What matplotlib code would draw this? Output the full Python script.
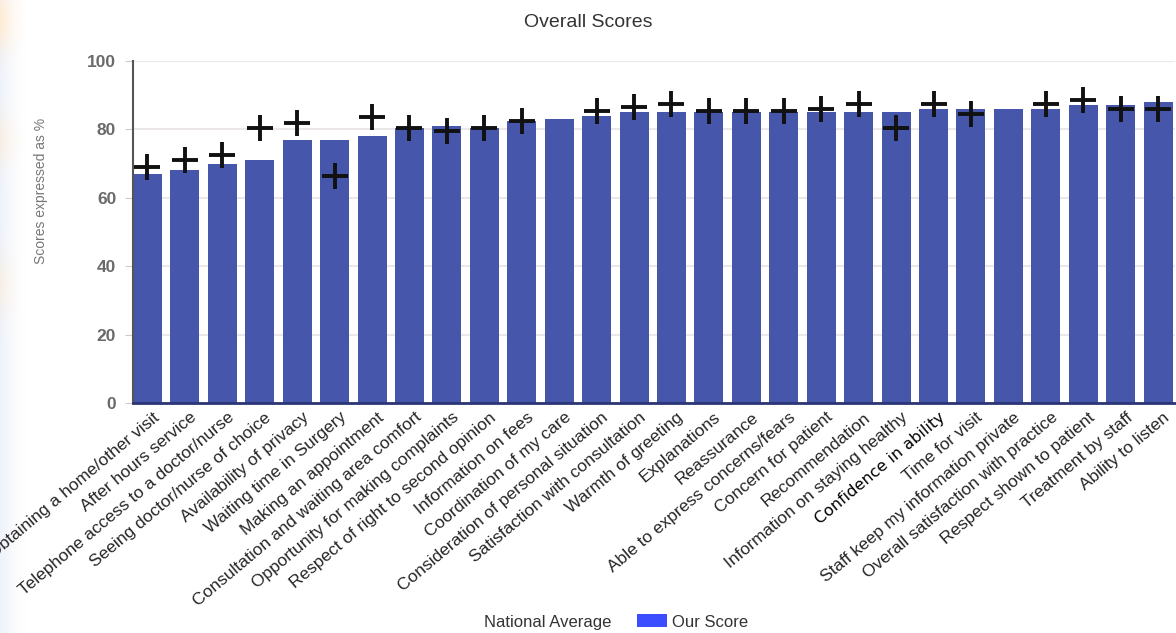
import numpy as np
import matplotlib
matplotlib.use("Agg")
from matplotlib import pyplot as plt
from matplotlib.patches import Patch
from matplotlib.lines import Line2D
import matplotlib.transforms as mtransforms

categories = [
    "Obtaining a home/other visit", "After hours service",
    "Telephone access to a doctor/nurse", "Seeing doctor/nurse of choice",
    "Availability of privacy", "Waiting time in Surgery", "Making an appointment",
    "Consultation and waiting area comfort", "Opportunity for making complaints",
    "Respect of right to second opinion", "Information on fees",
    "Coordination of my care", "Consideration of personal situation",
    "Satisfaction with consultation", "Warmth of greeting", "Explanations",
    "Reassurance", "Able to express concerns/fears", "Concern for patient",
    "Recommendation", "Information on staying healthy", "Confidence in ability",
    "Time for visit", "Staff keep my information private",
    "Overall satisfaction with practice", "Respect shown to patient",
    "Treatment by staff", "Ability to listen",
]
our_score = [67, 68, 70, 71, 77, 77, 78, 80.5, 81, 80.5, 82.5, 83, 84, 85,
             85, 85, 85, 85, 85, 85, 85, 86, 86, 86, 86, 87, 87, 88]
# nan = no national figure for that question
national_avg = [69, 71, 72.5, 80.5, 82, 66.5, 83.5, 80.5, 79.5, 80.5, 82.5, np.nan,
                85.5, 86.5, 87.5, 85.5, 85.5, 85.5, 86, 87.5, 80.5, 87.5, 84.5,
                np.nan, 87.5, 88.5, 86, 86]
yticks = [0, 20, 40, 60, 80, 100]

bar_color = "#4656aa"
legend_blue = "#3b4dff"

plt.rcParams["font.family"] = ["Liberation Sans", "DejaVu Sans"]

fig = plt.figure(figsize=(11.76, 6.33), dpi=100)
ax = fig.add_axes([0.113, 0.3633, 0.886, 0.5403])

# faint page background bleeding in on the left edge
h, w = 633, 26
fade = 0.55 * np.clip(1 - np.arange(w) / w, 0, 1) ** 1.5
rows = np.linspace(0, 1, h)
warm = np.exp(-((rows - 0.03) / 0.05) ** 2) + 0.6 * np.exp(-((rows - 0.22) / 0.04) ** 2) \
    + 0.5 * np.exp(-((rows - 0.45) / 0.05) ** 2)
warm = np.clip(warm, 0, 1)
blue = np.array([0.88, 0.91, 0.97])
orange = np.array([0.99, 0.86, 0.70])
col = blue[None, :] * (1 - warm[:, None]) + orange[None, :] * warm[:, None]
img = np.ones((h, w, 3))
img = img * (1 - fade[None, :, None]) + col[:, None, :] * fade[None, :, None]
fig.figimage(img, xo=0, yo=0, origin="upper", zorder=-10)

x = np.arange(len(categories))
ax.set_axisbelow(True)
ax.patch.set_alpha(0)
ax.yaxis.grid(True, color="#ece8e8", linewidth=1.5)
ax.bar(x, our_score, width=0.775, color=bar_color, zorder=2)
ax.plot(x, national_avg, linestyle="none", marker="+", markersize=19,
        markeredgewidth=2.8, color="#111111", zorder=3)

ax.set_xlim(-0.388, 27.446)
ax.set_ylim(0, 100)
ax.set_yticks(yticks)
ax.tick_params(axis="y", length=6, color="#cccccc", labelsize=12.5, labelcolor="#6a6a6a", pad=6)
for t in ax.get_yticklabels():
    t.set_fontweight("bold")
ax.set_xticks(x)
ax.set_xticklabels(categories, rotation=40, ha="right", va="center",
                   rotation_mode="anchor", fontsize=12.5, color="#262626")
ax.tick_params(axis="x", length=0, pad=0)
offset = mtransforms.ScaledTranslation(7 / 72, -9 / 72, fig.dpi_scale_trans)
for t in ax.get_xticklabels():
    t.set_transform(t.get_transform() + offset)
    if t.get_text() == "Confidence in ability":
        t.set_family("DejaVu Sans")
        t.set_fontsize(11.5)
        t.set_color("black")

for s in ["top", "right"]:
    ax.spines[s].set_visible(False)
ax.spines["left"].set_color("#555555")
ax.spines["left"].set_linewidth(1.5)
ax.spines["bottom"].set_color("#2b3575")
ax.spines["bottom"].set_linewidth(2)

ax.set_ylabel("Scores expressed as %", fontsize=10, color="#777777")
ax.yaxis.set_label_coords(-0.081, 0.62)

fig.text(0.5, 0.964, "Overall Scores", ha="center", va="center", fontsize=14, color="#333333")

handles = [Line2D([], [], linestyle="none"),
           Patch(facecolor=legend_blue, edgecolor="none")]
fig.legend(handles, ["National Average", "Our Score"], loc="center",
           bbox_to_anchor=(0.509, 0.0174), ncol=2, frameon=False, fontsize=12,
           handlelength=1.8, handleheight=0.78, handletextpad=0.3,
           columnspacing=1.5, labelcolor="#333333")

plt.savefig("out.png", dpi=100)
